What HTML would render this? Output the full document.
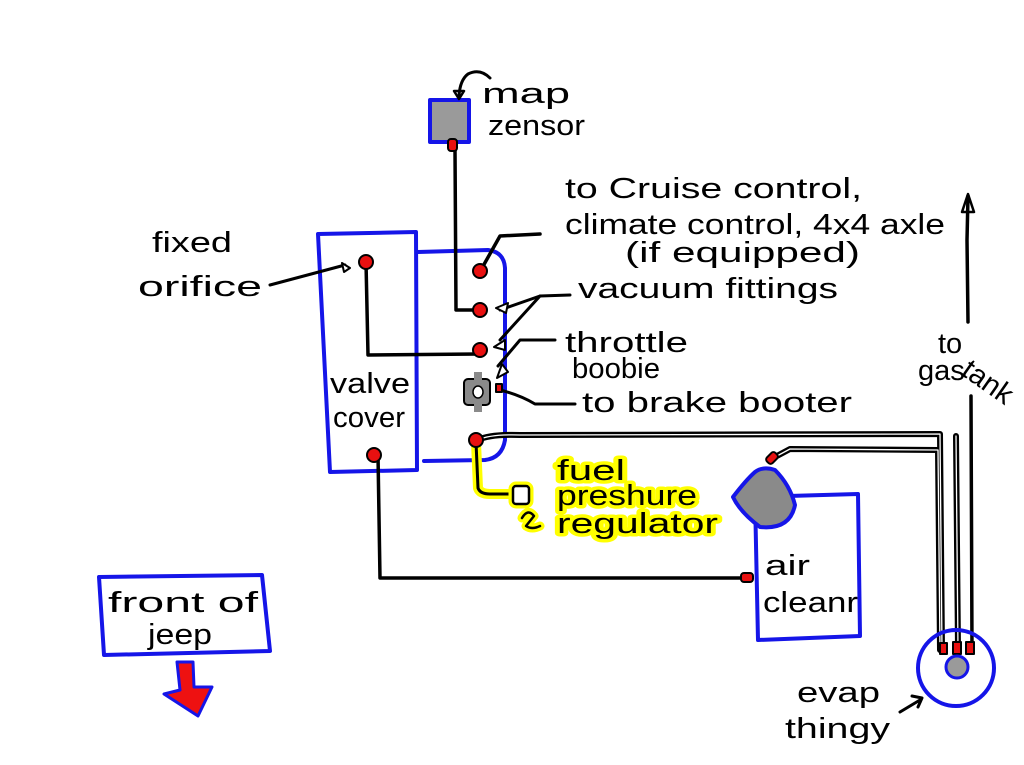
<!DOCTYPE html>
<html><head><meta charset="utf-8"><style>
html,body{margin:0;padding:0;background:#fff;width:1024px;height:765px;overflow:hidden}
svg{display:block}
text{font-family:"Liberation Sans",sans-serif;fill:#000;font-size:29px}
</style></head><body>
<svg width="1024" height="765" viewBox="0 0 1024 765">
<g fill="none" stroke-linecap="round" stroke-linejoin="round">
<path d="M318 234 L416 232 L417 470 L330 472 Z" stroke="#1515e8" stroke-width="4" fill="#fff"/>
<path d="M418 252 L488 250 Q504 252 505 268 L505 440 Q502 458 485 460 L424 461" stroke="#1515e8" stroke-width="4"/>
<rect x="430" y="100" width="39" height="42" fill="#9a9a9a" stroke="#1515e8" stroke-width="4"/>
<path d="M490 78 Q480 68 468 74 Q460 80 459 96" stroke="#000" stroke-width="3"/>
<path d="M454 91 L459 99 L464 91 Z" stroke="#000" stroke-width="2.5"/>
<path d="M455 150 L456 310 L477 310" stroke="#000" stroke-width="3.5"/>
<path d="M366 262 L368 355 L478 354" stroke="#000" stroke-width="3.5"/>
<path d="M378 455 L380 578 L745 578" stroke="#000" stroke-width="3.5"/>
<path d="M482 268 L500 236 L540 234" stroke="#000" stroke-width="3.5"/>
<path d="M500 310 L540 296 L570 295 M500 340 L540 296" stroke="#000" stroke-width="3"/>
<path d="M498 366 L520 340 L555 340" stroke="#000" stroke-width="3"/>
<path d="M500 390 Q520 395 535 404 L575 404" stroke="#000" stroke-width="3"/>
<path d="M270 285 L345 265" stroke="#000" stroke-width="3"/>
<g stroke="#000" stroke-width="6">
<path d="M478 440 Q490 434 520 435 L940 434 L942 650"/>
<path d="M775 457 L790 449 L938 450 L940 650"/>
<path d="M956 436 L958 650"/>
</g>
<g stroke="#fff" stroke-width="1.3">
<path d="M478 440 Q490 434 520 435 L940 434 L942 650"/>
<path d="M775 457 L790 449 L938 450 L940 650"/>
<path d="M956 436 L958 650"/>
</g>
<path d="M968 196 L967 240 L968 322 M971 396 L972 650" stroke="#000" stroke-width="3.5"/>
<path d="M962 212 L968 194 L974 212 Z" stroke="#000" stroke-width="2.5"/>
<path d="M496 308 L508 303 L506 313 Z M494 347 L505 340 L505 350 Z M497 378 L502 364 L508 372 Z M342 263 L350 268 L344 272 Z" stroke="#000" stroke-width="2" fill="#fff"/>
<path d="M476 442 L478 488 Q480 494 490 494 L514 494" stroke="#ffff00" stroke-width="10"/>
<path d="M476 442 L478 488 Q480 494 490 494 L514 494" stroke="#000" stroke-width="3"/>
<rect x="513" y="486" width="16" height="18" rx="3" fill="#fff" stroke="#ffff00" stroke-width="9"/>
<rect x="513" y="486" width="16" height="18" rx="3" fill="#fff" stroke="#000" stroke-width="2.5"/>
<path d="M522 518 Q528 508 534 516 L526 526 Q532 530 540 526" stroke="#ffff00" stroke-width="9"/>
<path d="M522 518 Q528 508 534 516 L526 526 Q532 530 540 526" stroke="#000" stroke-width="2.5"/>
<g fill="#e81010" stroke="#000" stroke-width="2">
<circle cx="366" cy="262" r="7"/><circle cx="480" cy="271" r="7"/><circle cx="480" cy="310" r="7"/>
<circle cx="480" cy="350" r="7"/><circle cx="476" cy="440" r="7"/><circle cx="374" cy="455" r="7"/>
<rect x="448" y="139" width="9" height="12" rx="3"/>
<rect x="496" y="384" width="6" height="8"/>
<rect x="741" y="573" width="12" height="9" rx="3"/>
<rect x="768" y="452" width="8" height="12" rx="3" transform="rotate(45 772 458)"/>
<rect x="940" y="643" width="7" height="11"/><rect x="953" y="642" width="8" height="12"/><rect x="966" y="642" width="8" height="12"/>
</g>
<rect x="464" y="379" width="26" height="26" rx="4" fill="#8a8a8a" stroke="#000" stroke-width="2"/>
<rect x="474" y="372" width="8" height="8" fill="#8a8a8a"/><rect x="474" y="404" width="8" height="8" fill="#8a8a8a"/>
<ellipse cx="478" cy="392" rx="5" ry="6" fill="#fff" stroke="#000" stroke-width="1.5"/>
<path d="M755 497 L858 494 L860 636 L758 640 Z" stroke="#1515e8" stroke-width="4" fill="#fff"/>
<path d="M755 472 Q746 480 733 497 Q740 512 760 527 Q790 530 795 505 Q790 485 775 470 Q763 466 755 472 Z" fill="#8a8a8a" stroke="#1515e8" stroke-width="4"/>
<circle cx="956" cy="668" r="38" stroke="#1515e8" stroke-width="4"/>
<circle cx="957" cy="667" r="11" fill="#9a9a9a" stroke="#1515e8" stroke-width="3"/>
<path d="M900 712 L920 700 M912 696 L922 698 L918 707" stroke="#000" stroke-width="3"/>
<path d="M99 577 L262 575 L270 651 L104 655 Z" stroke="#1515e8" stroke-width="4" fill="#fff"/>
<path d="M177 662 L193 662 L194 687 L212 687 L198 716 L164 694 L180 690 Z" fill="#ee1111" stroke="#1515e8" stroke-width="3"/>
</g>
<text x="482" y="103" textLength="88" lengthAdjust="spacingAndGlyphs">map</text>
<text x="488" y="135" textLength="97" lengthAdjust="spacingAndGlyphs">zensor</text>
<text x="565" y="198" textLength="297" lengthAdjust="spacingAndGlyphs">to Cruise control,</text>
<text x="565" y="234" textLength="380" lengthAdjust="spacingAndGlyphs">climate control, 4x4 axle</text>
<text x="625" y="262" textLength="235" lengthAdjust="spacingAndGlyphs">(if equipped)</text>
<text x="578" y="298" textLength="260" lengthAdjust="spacingAndGlyphs">vacuum fittings</text>
<text x="565" y="352" textLength="123" lengthAdjust="spacingAndGlyphs">throttle</text>
<text x="572" y="378" textLength="88" lengthAdjust="spacingAndGlyphs">boobie</text>
<text x="582" y="412" textLength="270" lengthAdjust="spacingAndGlyphs">to brake booter</text>
<text x="152" y="252" textLength="80" lengthAdjust="spacingAndGlyphs">fixed</text>
<text x="138" y="296" textLength="124" lengthAdjust="spacingAndGlyphs">orifice</text>
<text x="330" y="393" textLength="80" lengthAdjust="spacingAndGlyphs">valve</text>
<text x="333" y="427" textLength="72" lengthAdjust="spacingAndGlyphs">cover</text>
<text x="938" y="353" font-size="24">to</text>
<text x="918" y="380" font-size="24">gas</text><text x="960" y="374" font-size="18" transform="rotate(35 960 374)">tank</text>
<text x="765" y="575" textLength="45" lengthAdjust="spacingAndGlyphs">air</text>
<text x="763" y="612" textLength="95" lengthAdjust="spacingAndGlyphs">cleanr</text>
<text x="797" y="702" textLength="83" lengthAdjust="spacingAndGlyphs">evap</text>
<text x="785" y="738" textLength="105" lengthAdjust="spacingAndGlyphs">thingy</text>
<text x="108" y="612" textLength="150" lengthAdjust="spacingAndGlyphs">front of</text>
<text x="148" y="644" textLength="64" lengthAdjust="spacingAndGlyphs">jeep</text>
<g style="paint-order:stroke" stroke="#ffff00" stroke-width="7" stroke-linejoin="round">
<text x="557" y="480" textLength="68" lengthAdjust="spacingAndGlyphs">fuel</text>
<text x="557" y="505" textLength="140" lengthAdjust="spacingAndGlyphs">preshure</text>
<text x="557" y="533" textLength="161" lengthAdjust="spacingAndGlyphs">regulator</text>
</g>
</svg>
</body></html>
